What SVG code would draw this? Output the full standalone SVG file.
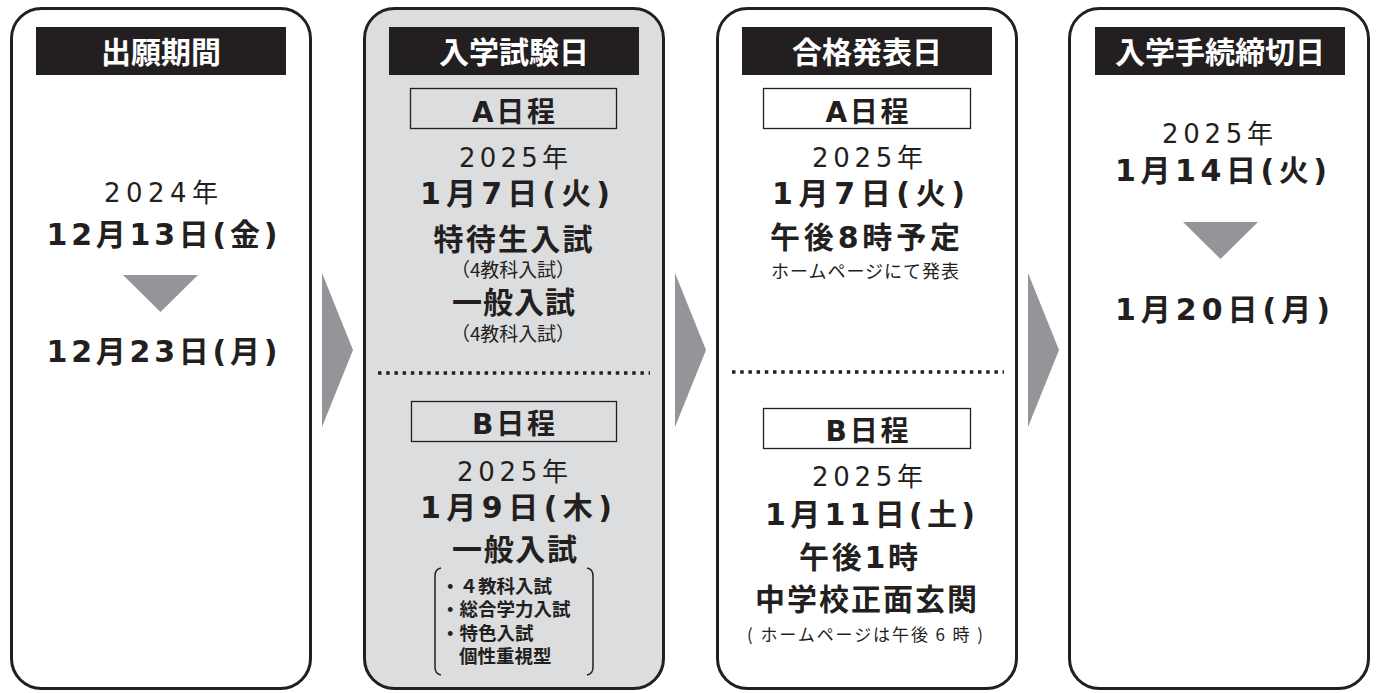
<svg xmlns="http://www.w3.org/2000/svg" width="1376" height="693" viewBox="0 0 1376 693">
<style>
text{font-family:"Noto Sans CJK JP","Noto Sans",sans-serif;fill:#231f20;text-anchor:middle}
.box{fill:#fff;stroke:#231f20;stroke-width:3}
.gray{fill:#dcdddf}
.hdr{fill:#231f20}
.ht{fill:#fff;font-size:30px;font-weight:700}
.frame{fill:none;stroke:#231f20;stroke-width:1.3}
.ft{font-family:"DejaVu Sans","Noto Sans CJK JP",sans-serif;font-size:28px;font-weight:700}
.yr{font-family:"DejaVu Sans","Noto Sans CJK JP",sans-serif;font-size:26px;font-weight:400}
.big{font-family:"DejaVu Sans","Noto Sans CJK JP",sans-serif;font-size:30px;font-weight:700}
.sm{font-size:19px;font-weight:400}
.li{font-size:18.5px;font-weight:700;text-anchor:start}
.tri{fill:#939598}
.dots{stroke:#231f20;stroke-width:3.5;stroke-dasharray:3.5 4.7;fill:none}
.brk{fill:none;stroke:#231f20;stroke-width:1.5}
</style>

<g id="connectors">
<polygon class="tri" points="322,273 353,350 322,427"/>
<polygon class="tri" points="675,273 706,350 675,427"/>
<polygon class="tri" points="1028,273 1059,350 1028,427"/>
</g>

<g id="node-application">
<rect class="box" x="11.5" y="8.5" width="299" height="680" rx="30"/>
<rect class="hdr" x="36" y="27" width="250" height="48"/>
<text class="ht" x="161" y="63">出願期間</text>
<text class="yr" x="161" y="202" textLength="114" lengthAdjust="spacing">2024年</text>
<text class="big" x="162" y="245" textLength="231" lengthAdjust="spacing">12月13日(金)</text>
<polygon class="tri" points="123,275 198,275 160.5,312"/>
<text class="big" x="162" y="362" textLength="231" lengthAdjust="spacing">12月23日(月)</text>
</g>

<g id="node-exam">
<rect class="box gray" x="364.5" y="8.5" width="299" height="680" rx="30"/>
<rect class="hdr" x="389" y="27" width="250" height="48"/>
<text class="ht" x="514" y="63">入学試験日</text>
<rect class="frame" x="410.5" y="88.5" width="206" height="40"/>
<text class="ft" x="513.5" y="122" textLength="83" lengthAdjust="spacing">A日程</text>
<text class="yr" x="513.5" y="167" textLength="109" lengthAdjust="spacing">2025年</text>
<text class="big" x="515" y="204" textLength="190" lengthAdjust="spacing">1月7日(火)</text>
<text class="big" x="513" y="250" textLength="159" lengthAdjust="spacing">特待生入試</text>
<text class="sm" x="513" y="277" textLength="124" lengthAdjust="spacing">（4教科入試）</text>
<text class="big" x="513.5" y="313" textLength="123" lengthAdjust="spacing">一般入試</text>
<text class="sm" x="513" y="341" textLength="124" lengthAdjust="spacing">（4教科入試）</text>
<line class="dots" x1="378" y1="373" x2="650" y2="373"/>
<rect class="frame" x="411.5" y="401.5" width="205" height="40"/>
<text class="ft" x="513.5" y="434" textLength="83" lengthAdjust="spacing">B日程</text>
<text class="yr" x="512.5" y="481" textLength="111" lengthAdjust="spacing">2025年</text>
<text class="big" x="516" y="518" textLength="192" lengthAdjust="spacing">1月9日(木)</text>
<text class="big" x="514.5" y="560" textLength="125" lengthAdjust="spacing">一般入試</text>
<path class="brk" d="M441,568 Q435,569 435,576 L435,667 Q435,674 441,675"/>
<path class="brk" d="M587,568 Q593,569 593,576 L593,667 Q593,674 587,675"/>
<text class="li" x="441" y="593">・４教科入試</text>
<text class="li" x="441" y="616">・総合学力入試</text>
<text class="li" x="441" y="640">・特色入試</text>
<text class="li" x="459" y="663">個性重視型</text>
</g>

<g id="node-result">
<rect class="box" x="717.5" y="8.5" width="299" height="680" rx="30"/>
<rect class="hdr" x="742" y="27" width="250" height="48"/>
<text class="ht" x="867" y="63">合格発表日</text>
<rect class="frame" x="763.5" y="88.5" width="207" height="40"/>
<text class="ft" x="867" y="122" textLength="83" lengthAdjust="spacing">A日程</text>
<text class="yr" x="867.5" y="167" textLength="111" lengthAdjust="spacing">2025年</text>
<text class="big" x="868.5" y="204" textLength="193" lengthAdjust="spacing">1月7日(火)</text>
<text class="big" x="865" y="248" textLength="190" lengthAdjust="spacing">午後8時予定</text>
<text class="sm" x="865" y="278" style="font-size:18px" textLength="188" lengthAdjust="spacing">ホームページにて発表</text>
<line class="dots" x1="732" y1="372" x2="1004" y2="372"/>
<rect class="frame" x="763.5" y="408.5" width="207" height="40"/>
<text class="ft" x="867" y="441" textLength="83" lengthAdjust="spacing">B日程</text>
<text class="yr" x="867.5" y="486" textLength="111" lengthAdjust="spacing">2025年</text>
<text class="big" x="870" y="525" textLength="210" lengthAdjust="spacing">1月11日(土)</text>
<text class="big" x="858.5" y="568" textLength="119" lengthAdjust="spacing">午後1時</text>
<text class="big" x="866" y="610" textLength="222" lengthAdjust="spacing">中学校正面玄関</text>
<text class="sm" x="865" y="641" style="font-size:17px" textLength="236" lengthAdjust="spacing">( ホームページは午後 6 時 )</text>
</g>

<g id="node-procedure">
<rect class="box" x="1069.5" y="8.5" width="299" height="680" rx="30"/>
<rect class="hdr" x="1095" y="27" width="250" height="48"/>
<text class="ht" x="1220" y="63">入学手続締切日</text>
<text class="yr" x="1217.5" y="143" textLength="111" lengthAdjust="spacing">2025年</text>
<text class="big" x="1221" y="181" textLength="212" lengthAdjust="spacing">1月14日(火)</text>
<polygon class="tri" points="1183,222 1258,222 1220.5,259"/>
<text class="big" x="1222.5" y="320" textLength="215" lengthAdjust="spacing">1月20日(月)</text>
</g>
</svg>
